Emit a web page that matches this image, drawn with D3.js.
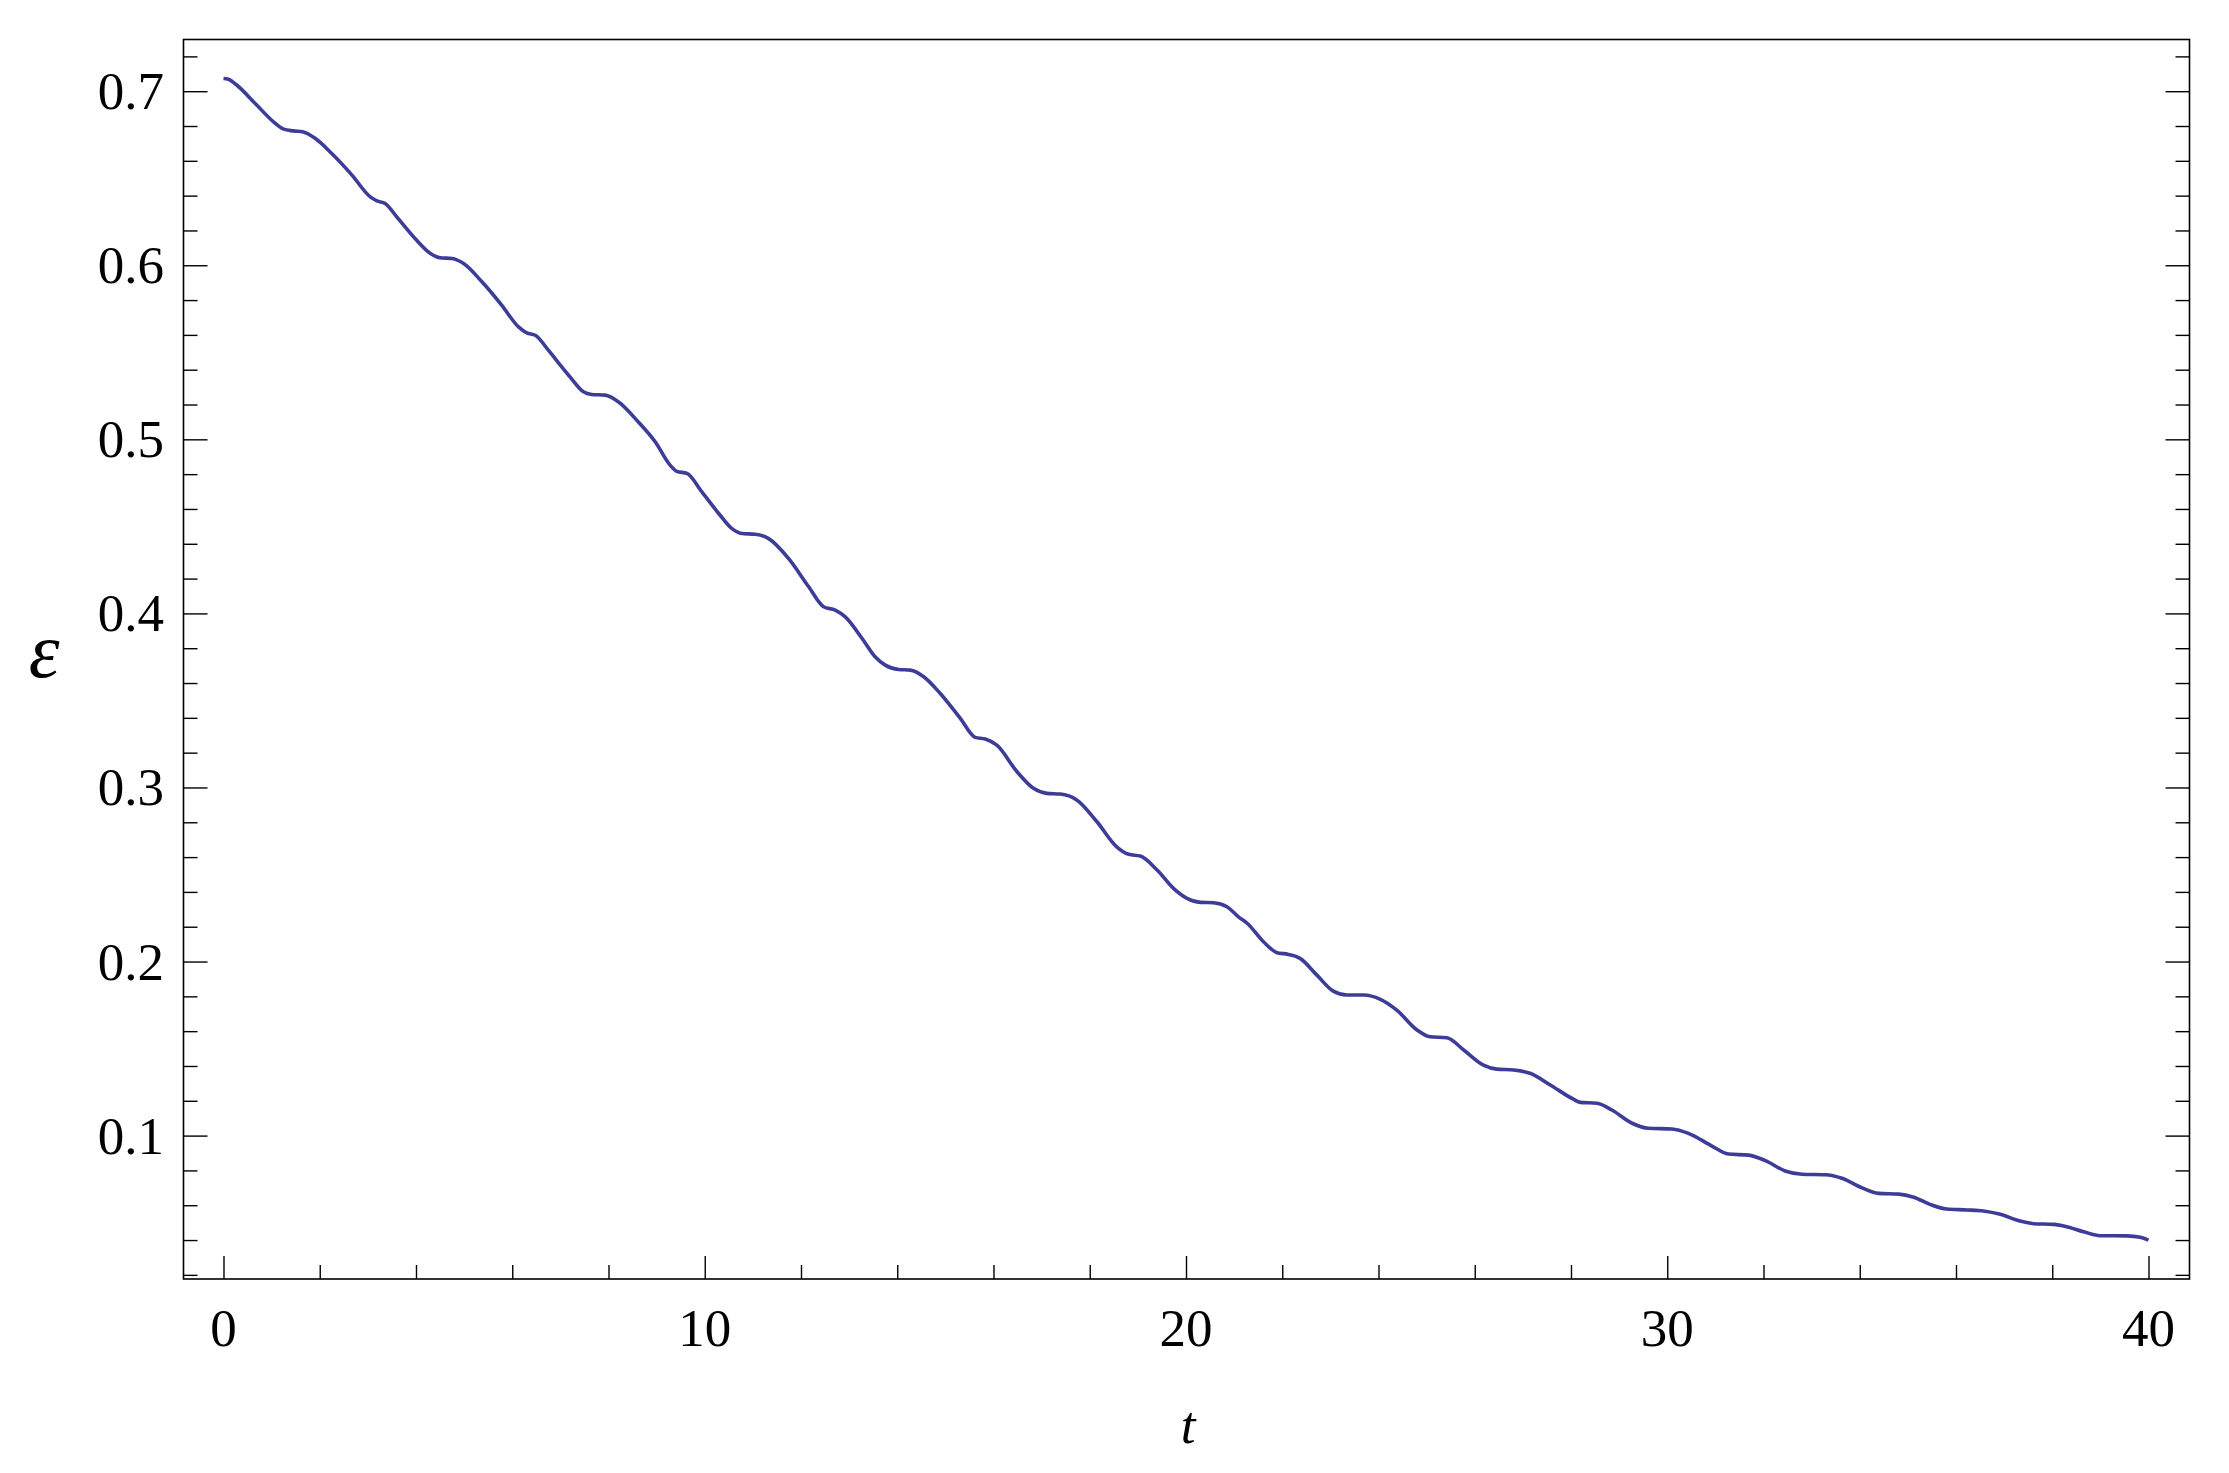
<!DOCTYPE html>
<html>
<head>
<meta charset="utf-8">
<script src="https://cdn.jsdelivr.net/npm/d3@7"></script>
<style>
  html, body { margin: 0; padding: 0; background: #fff; }
  svg { display: block; }
  text { font-family: "Liberation Serif", "Times New Roman", serif; fill: #000; }
</style>
</head>
<body>
<svg id="chart" width="2229" height="1473"></svg>
<script>
// ---- data ----
const tValues = [0, 0.10, 0.28, 0.66, 1.04, 1.25, 1.45, 1.66, 1.91, 2.25, 2.67, 3.05, 3.19, 3.36, 3.60, 3.98, 4.30, 4.50, 4.75, 4.99,
  5.37, 5.78, 6.13, 6.30, 6.48, 6.75, 7.03, 7.20, 7.48, 7.65, 7.93, 8.21, 8.62, 8.97, 9.28, 9.42, 9.63, 9.94,
  10.29, 10.56, 10.77, 11.05, 11.32, 11.74, 12.16, 12.47, 12.71, 12.92, 13.27, 13.54, 13.75, 14.03, 14.27, 14.55, 14.89,
  15.31, 15.62, 15.83, 16.07, 16.49, 16.83, 17.11, 17.39, 17.73, 18.15, 18.56, 18.81, 19.05, 19.40, 19.74,
  20.02, 20.30, 20.57, 20.85, 21.09, 21.27, 21.61, 21.89, 22.13, 22.37, 22.72, 23.06, 23.34, 23.69, 24.04, 24.38,
  24.80, 25.07, 25.42, 25.77, 26.18, 26.46, 26.81, 27.15, 27.57, 28.05, 28.19, 28.54, 28.85, 29.27, 29.61,
  30.10, 30.44, 30.93, 31.27, 31.69, 32.04, 32.45, 32.80, 33.28, 33.63, 34.04, 34.39, 34.81, 35.12, 35.46, 35.81,
  36.23, 36.57, 36.92, 37.33, 37.61, 38.03, 38.30, 38.65, 39.00, 39.55, 39.83, 40.0];
const epsValues = [0.7073, 0.7069, 0.7034, 0.6929, 0.6824, 0.6782, 0.6772, 0.6766, 0.6728, 0.6642, 0.6518, 0.6393, 0.6370, 0.6355, 0.6278, 0.6154, 0.6068, 0.6043, 0.6039, 0.6010,
  0.5905, 0.5771, 0.5646, 0.5612, 0.5598, 0.5512, 0.5416, 0.5359, 0.5273, 0.5258, 0.5254, 0.5215, 0.5100, 0.4986, 0.4852, 0.4816, 0.4804, 0.4698,
  0.4574, 0.4488, 0.4459, 0.4455, 0.4431, 0.4316, 0.4153, 0.4038, 0.4019, 0.3980, 0.3856, 0.3751, 0.3703, 0.3678, 0.3674, 0.3636, 0.3541,
  0.3397, 0.3288, 0.3278, 0.3243, 0.3090, 0.2995, 0.2966, 0.2962, 0.2928, 0.2803, 0.2659, 0.2616, 0.2606, 0.2526, 0.2420,
  0.2363, 0.2340, 0.2338, 0.2315, 0.2257, 0.2220, 0.2114, 0.2051, 0.2041, 0.2018, 0.1922, 0.1830, 0.1808, 0.1808, 0.1783, 0.1721,
  0.1607, 0.1568, 0.1562, 0.1492, 0.1405, 0.1382, 0.1377, 0.1358, 0.1291, 0.1209, 0.1191, 0.1186, 0.1147, 0.1071, 0.1042,
  0.1038, 0.1013, 0.0940, 0.0894, 0.0888, 0.0856, 0.0797, 0.0778, 0.0775, 0.0755, 0.0701, 0.0668, 0.0664, 0.0646, 0.0605, 0.0578,
  0.0573, 0.0567, 0.0548, 0.0509, 0.0494, 0.0490, 0.0477, 0.0448, 0.0425, 0.0424, 0.0416, 0.0400];

const xMajorTicks = [0, 10, 20, 30, 40];
const xMinorTicks = [2, 4, 6, 8, 12, 14, 16, 18, 22, 24, 26, 28, 32, 34, 36, 38];
const yMajorTicks = [0.1, 0.2, 0.3, 0.4, 0.5, 0.6, 0.7];
const yMinorTicks = [0.02, 0.04, 0.06, 0.08, 0.12, 0.14, 0.16, 0.18, 0.22, 0.24, 0.26, 0.28,
  0.32, 0.34, 0.36, 0.38, 0.42, 0.44, 0.46, 0.48, 0.52, 0.54, 0.56, 0.58, 0.62, 0.64, 0.66, 0.68, 0.72];
const xLabel = "t";
const yLabel = "ε";

(function () {
  // ---- layout ----
  const pLeft = 183.5, pRight = 2189.5, pTop = 39.5, pBottom = 1279;
  const svg = d3.select("#chart");

  const x = d3.scaleLinear().domain([-0.831, 40.852]).range([pLeft, pRight]);
  const y = d3.scaleLinear().domain([0.01762, 0.72970]).range([pBottom, pTop]);

  const fmt = d3.format(".1f");
  const majorLen = 24, minorLen = 14;
  const fontSize = 53;

  function style(g) {
    g.select(".domain").remove();
    g.selectAll("line").attr("stroke", "#000").attr("stroke-width", 1.4);
  }

  // bottom axis (ticks inward)
  svg.append("g").attr("transform", `translate(0,${pBottom})`)
    .call(d3.axisBottom(x).tickValues(xMajorTicks).tickSizeInner(-23).tickSizeOuter(0).tickFormat(""))
    .call(style);
  svg.append("g").attr("transform", `translate(0,${pBottom})`)
    .call(d3.axisBottom(x).tickValues(xMinorTicks).tickSizeInner(-minorLen).tickSizeOuter(0).tickFormat(""))
    .call(style);
  svg.append("g").selectAll("text").data(xMajorTicks).join("text")
    .attr("x", d => x(d)).attr("y", 1346)
    .attr("text-anchor", "middle").attr("font-size", fontSize)
    .text(d => d);

  // left + right axes (ticks inward)
  svg.append("g").attr("transform", `translate(${pLeft},0)`)
    .call(d3.axisLeft(y).tickValues(yMajorTicks).tickSizeInner(-majorLen).tickSizeOuter(0).tickFormat(""))
    .call(style);
  svg.append("g").attr("transform", `translate(${pLeft},0)`)
    .call(d3.axisLeft(y).tickValues(yMinorTicks).tickSizeInner(-minorLen).tickSizeOuter(0).tickFormat(""))
    .call(style);
  svg.append("g").attr("transform", `translate(${pRight},0)`)
    .call(d3.axisRight(y).tickValues(yMajorTicks).tickSizeInner(-majorLen).tickSizeOuter(0).tickFormat(""))
    .call(style);
  svg.append("g").attr("transform", `translate(${pRight},0)`)
    .call(d3.axisRight(y).tickValues(yMinorTicks).tickSizeInner(-minorLen).tickSizeOuter(0).tickFormat(""))
    .call(style);
  svg.append("g").selectAll("text").data(yMajorTicks).join("text")
    .attr("x", 164).attr("y", d => y(d) + 18)
    .attr("text-anchor", "end").attr("font-size", fontSize)
    .text(d => fmt(d));

  // frame
  svg.append("rect").attr("x", pLeft).attr("y", pTop)
    .attr("width", pRight - pLeft).attr("height", pBottom - pTop)
    .attr("fill", "none").attr("stroke", "#000").attr("stroke-width", 1.6);

  // curve
  const pts = tValues.map((t, i) => [t, epsValues[i]]);
  svg.append("path").datum(pts)
    .attr("fill", "none").attr("stroke", "#3d3d99").attr("stroke-width", 3.6)
    .attr("stroke-linejoin", "round")
    .attr("d", d3.line().x(d => x(d[0])).y(d => y(d[1])).curve(d3.curveMonotoneX));

  // axis labels
  svg.append("text").attr("x", x(20) + 2).attr("y", 1443)
    .attr("text-anchor", "middle").attr("font-size", 53).attr("font-style", "italic")
    .text(xLabel);
  svg.append("text").attr("x", 44).attr("y", 677)
    .attr("text-anchor", "middle").attr("font-size", 78).attr("font-style", "italic")
    .text(yLabel);
})();
</script>
</body>
</html>
